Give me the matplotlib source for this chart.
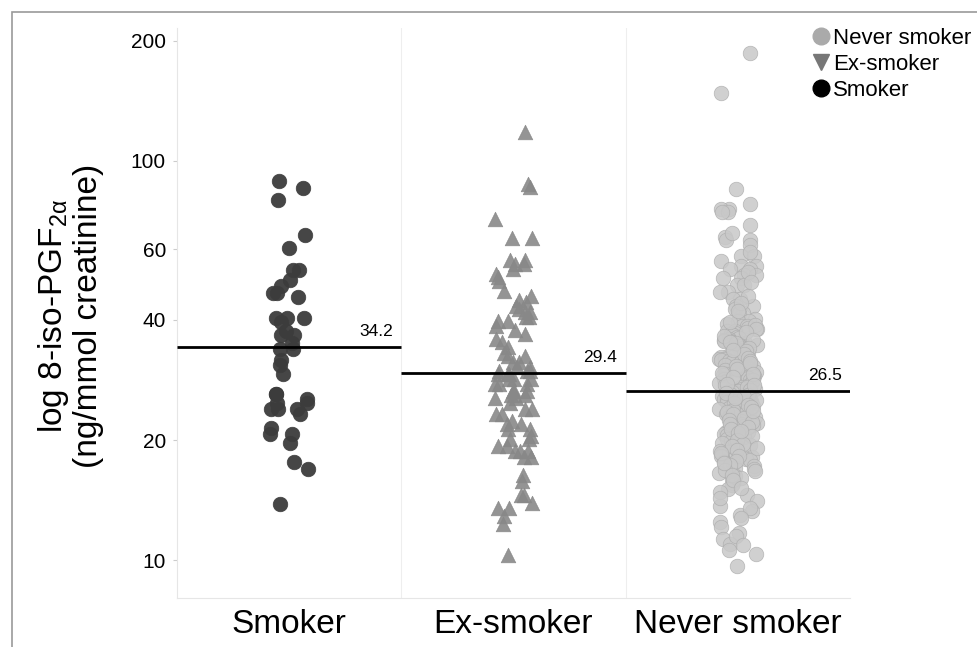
import matplotlib
matplotlib.use('Agg')  # no display
import matplotlib.pyplot as plt
from matplotlib.lines import Line2D
from matplotlib.patches import Rectangle
from matplotlib.ticker import NullLocator
import numpy as np
import pandas as pd
import seaborn as sns

# values (ng/mmol creatinine)
groups = ['Smoker', 'Ex-smoker', 'Never smoker']
smoker = [88.9, 85.5, 79.6, 65.4, 60.6, 53.3, 53.3, 50.4, 48.7, 46.6, 46.6, 45.7,
          40.4, 40.4, 40.4, 39.6, 37.6, 36.7, 36.7, 34.9, 33.9, 33.9, 31.8, 30.8,
          29.3, 26.1, 26.1, 25.4, 24.7, 24.7, 23.9, 23.9, 23.9, 23.3, 21.5, 20.7,
          20.7, 19.7, 17.6, 16.9, 13.8]
ex_smoker = [118.3, 87.4, 86.1, 71.6, 64.1, 64.1, 56.5, 56.5, 55.2, 55.2, 53.6, 52.1,
             51.1, 50.1, 47.1, 46.0, 44.9, 44.2, 43.4, 42.6, 41.8, 41.8, 40.6, 40.6,
             39.8, 39.8, 38.7, 37.7, 36.8, 35.8, 35.1, 34.2, 33.1, 32.5, 32.5, 31.3,
             31.3, 30.4, 30.4, 29.8, 29.8, 29.8, 29.2, 29.2, 29.2, 28.4, 28.4, 28.4,
             27.6, 27.6, 27.6, 26.5, 26.5, 26.5, 26.0, 26.0, 25.5, 25.5, 24.8, 23.9,
             23.9, 23.2, 23.2, 22.3, 21.9, 21.9, 21.3, 21.3, 20.5, 20.1, 20.1, 19.3,
             19.3, 18.8, 18.8, 18.8, 18.1, 18.1, 16.4, 15.8, 14.6, 14.6, 13.9, 13.5,
             13.5, 12.9, 12.3, 10.3]
never_smoker = [186.0, 147.5, 85.0, 78.0, 75.7, 75.7, 74.3, 74.3, 69.2, 64.6, 63.3, 63.3,
                61.5, 57.9, 57.9, 56.2, 54.5, 54.5, 53.5, 53.5, 51.9, 51.9, 50.9, 50.9,
                48.9, 48.9, 47.0, 47.0, 45.1, 45.1, 43.4, 43.4, 42.5, 41.7, 41.7,
                40.3, 39.8, 39.8, 39.1, 38.7, 38.5, 38.2, 37.9, 37.6, 37.4, 37.0, 36.8,
                36.6, 36.3, 36.1, 35.9, 35.7, 35.5, 35.4, 35.2, 35.0, 34.7, 34.6, 34.4,
                34.3, 34.0, 33.9, 33.7, 33.5, 33.3, 33.2, 33.0, 32.8, 32.7, 32.5, 32.3,
                32.2, 32.0, 31.9, 31.7, 31.6, 31.4, 31.3, 31.1, 30.9, 30.8, 30.6, 30.5,
                30.3, 30.2, 30.0, 29.9, 29.7, 29.6, 29.5, 29.3, 29.1, 29.0, 28.9, 28.7,
                28.6, 28.4, 28.3, 28.1, 28.0, 27.9, 27.8, 27.6, 27.5, 27.3, 27.2, 27.0,
                26.9, 26.8, 26.6, 26.5, 26.4, 26.2, 26.1, 26.0, 25.8, 25.7, 25.5, 25.4,
                25.3, 25.1, 25.0, 24.9, 24.7, 24.6, 24.4, 24.3, 24.1, 24.0, 23.9, 23.7,
                23.6, 23.4, 23.2, 23.1, 22.9, 22.8, 22.6, 22.4, 22.3, 22.1, 22.0, 21.8,
                21.7, 21.5, 21.4, 21.2, 21.0, 20.9, 20.7, 20.6, 20.4, 20.2, 20.1, 19.9,
                19.7, 19.5, 19.4, 19.2, 19.0, 18.8, 18.7, 18.5, 18.3, 18.1, 17.9, 17.8,
                17.6, 17.4, 17.2, 17.0, 16.9, 16.7, 16.5, 16.3, 16.1, 16.0, 15.6, 15.4,
                15.1, 14.8, 14.6, 14.1, 13.7, 13.3, 13.0, 12.5, 12.1, 11.7, 11.3, 11.0,
                10.6, 10.4, 9.7,
                39.5, 38.9, 38.0, 37.2, 36.4, 35.6, 34.9, 34.1, 33.4, 32.9, 32.1, 31.5,
                30.7, 30.1, 29.4, 28.8, 28.2, 27.7, 27.1, 26.7, 26.3, 25.9, 25.6, 25.2,
                24.8, 24.5, 24.2, 23.8, 23.5, 23.3, 22.7, 22.5, 22.2, 21.9, 21.6, 21.3,
                20.8, 20.5, 20.0, 19.6, 19.3, 18.9, 18.6, 18.2, 17.7, 17.3, 16.8, 16.4,
                35.3, 33.6, 31.2, 29.2, 27.4, 25.5, 23.7, 21.1, 19.1, 17.5, 45.8, 44.0,
                42.0, 52.6, 49.6, 59.0, 66.0, 15.9, 15.2, 14.3, 13.5, 12.8, 11.5, 10.9]
medians = [34.2, 29.4, 26.5]
y_ticks = [10, 20, 40, 60, 100, 200]

plt.rcParams['font.family'] = ['Liberation Sans', 'DejaVu Sans']
plt.rcParams['mathtext.fontset'] = 'custom'
plt.rcParams['mathtext.rm'] = 'Liberation Sans'
plt.rcParams['mathtext.it'] = 'Liberation Sans'

fig = plt.figure(figsize=(9.78, 6.47), dpi=100)
W, H = 978, 647
ax = fig.add_axes([177 / W, 1 - 598 / H, (850 - 177) / W, (598 - 28) / H])

np.random.seed(5)
styles = [('o', '#3c3c3c', '#3c3c3c', 0.95),
          ('^', '#888888', '#888888', 0.9),
          ('o', '#c8c8c8', '#adadad', 0.85)]
for i, (vals, (m, c, ec, a)) in enumerate(zip([smoker, ex_smoker, never_smoker], styles)):
    df = pd.DataFrame({'group': groups[i], 'value': vals})
    sns.stripplot(data=df, x='group', y='value', order=groups, jitter=0.085,
                  marker=m, color=c, edgecolor=ec, linewidth=0.5, size=10.5,
                  alpha=a, ax=ax, zorder=2)

ax.set_yscale('log')
ax.set_ylim(8.05, 215)
ax.set_xlim(-0.5, 2.5)

# median lines + labels
for i, med in enumerate(medians):
    ax.hlines(med, i - 0.5, i + 0.5, color='black', lw=2, zorder=3)
    ax.annotate(f'{med}', xy=(i + 0.5, med), xytext=(-6, 8), textcoords='offset points',
                ha='right', va='baseline', fontsize=12.5)

for xs in [0.5, 1.5]:
    ax.axvline(xs, color='#eeeeee', lw=0.8, zorder=0)

for s in ['top', 'right']:
    ax.spines[s].set_visible(False)
for s in ['left', 'bottom']:
    ax.spines[s].set_color('#e6e6e6')
    ax.spines[s].set_linewidth(0.8)

ax.set_yticks(y_ticks)
ax.set_yticklabels([str(t) for t in y_ticks], fontsize=15)
ax.yaxis.set_minor_locator(NullLocator())
ax.tick_params(axis='y', length=3, color='#cccccc', pad=5)
ax.tick_params(axis='x', length=0, labelsize=24, pad=8)
ax.set_xlabel('')
ax.set_ylabel('')

fig.text(70 / W, 1 - 316 / H, 'log 8-iso-PGF$_{2α}$\n(ng/mmol creatinine)',
         rotation=90, ha='center', va='center', multialignment='center',
         fontsize=24, linespacing=1.1)

handles = [Line2D([], [], ls='none', marker='o', color='#aaaaaa', markersize=12),
           Line2D([], [], ls='none', marker='v', color='#777777', markersize=12),
           Line2D([], [], ls='none', marker='o', color='black', markersize=12)]
fig.legend(handles, ['Never smoker', 'Ex-smoker', 'Smoker'], loc='upper left',
           bbox_to_anchor=(810 / W, 1 - 28 / H), frameon=False, fontsize=16,
           handletextpad=0.05, labelspacing=0.22, handlelength=1.0,
           borderaxespad=0, borderpad=0)

fig.patches.append(Rectangle((12 / W, -0.1), 1.2, 1 - 12 / H + 0.1,
                             transform=fig.transFigure, fill=False,
                             edgecolor='#9a9a9a', lw=1.2))

plt.savefig('out.png', dpi=100)
